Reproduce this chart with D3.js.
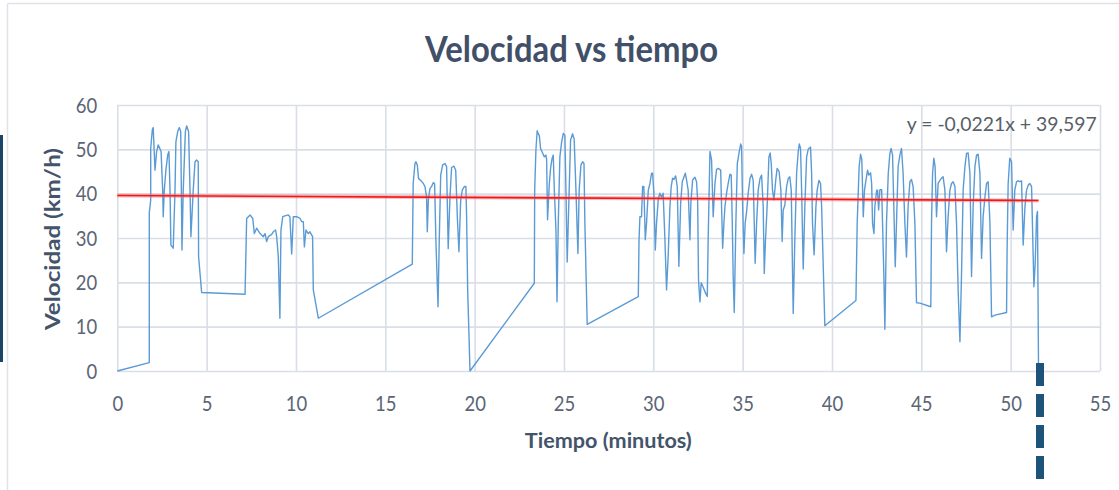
<!DOCTYPE html>
<html>
<head>
<meta charset="utf-8">
<script src="https://cdn.jsdelivr.net/npm/d3@7"></script>
<style>
  html, body { margin: 0; padding: 0; background: #fff; }
  svg { display: block; }
  text { font-family: Lato, "Open Sans", sans-serif; }
</style>
</head>
<body>
<svg id="chart" width="1119" height="490"></svg>
<script>
// Recorrido: [tiempo en minutos, velocidad en km/h]
const lecturas = [
  [0,0],[1.79,1.9],[1.79,35.6],[1.87,38.6],[1.87,50.2],[1.96,54.4],[2.01,54.9],[2.11,45.3],[2.2,49.5],[2.29,51],
  [2.45,49.5],[2.54,40.8],[2.57,34.8],[2.63,40.8],[2.72,45.3],[2.82,48.7],[2.89,49.5],[2.95,40.8],[3.0,28.4],[3.13,27.7],
  [3.23,40.8],[3.28,51.7],[3.38,54],[3.47,54.9],[3.55,54],[3.62,27.3],[3.69,40.8],[3.81,54],[3.88,55.3],[3.99,54],
  [4.07,40.8],[4.12,30.3],[4.25,40.8],[4.35,47.2],[4.44,47.6],[4.53,47.2],[4.55,25.8],[4.72,17.7],[7.15,17.3],[7.24,34.4],
  [7.43,35.2],[7.58,34.4],[7.67,31],[7.8,32.2],[7.99,31],[8.17,30.3],[8.27,31],[8.36,29.2],[8.45,30.3],[8.64,30.8],
  [8.73,31.4],[8.86,31.8],[8.92,30.3],[9.01,25.8],[9.1,11.9],[9.16,31.8],[9.26,34.8],[9.38,35],[9.57,35.2],[9.66,34.8],
  [9.76,26.4],[9.85,34.8],[10.04,34.8],[10.23,34.4],[10.32,33.7],[10.41,33.7],[10.47,28],[10.56,31.8],[10.69,31],[10.78,31.4],
  [10.93,30.3],[10.97,18.3],[11.25,11.9],
  [16.51,24.1],[16.56,42.3],[16.66,46.8],[16.71,47.2],[16.79,46.5],[16.86,43.4],[16.98,43],[17.13,42.3],[17.22,41.6],[17.31,39.3],
  [17.35,31.4],[17.41,38.6],[17.5,41.2],[17.59,41.6],[17.69,42.5],[17.76,42.2],[17.83,29.6],[17.95,14.5],[18.02,29.6],[18.1,44.2],
  [18.21,46.5],[18.34,46.8],[18.43,46.1],[18.52,27.6],[18.62,39.3],[18.71,45.9],[18.84,46.2],[18.94,45.3],[19.03,34.8],[19.12,26.9],
  [19.22,38.6],[19.31,40.8],[19.42,41.6],[19.51,41.6],[19.55,34.8],[19.61,18.3],[19.74,0],
  [23.34,19.8],[23.36,40.8],[23.43,49.9],[23.5,54.2],[23.55,53.6],[23.62,53.1],[23.69,50.2],[23.81,49.1],[23.9,48.3],[23.99,48.7],
  [24.03,47.6],[24.08,34.1],[24.18,42.3],[24.25,45.7],[24.33,47.9],[24.4,48.7],[24.46,40.8],[24.55,31.8],[24.61,15.6],[24.68,33.3],
  [24.77,48.3],[24.87,51.7],[24.96,53.6],[25.05,53.2],[25.11,40.8],[25.18,24.6],[25.28,39.3],[25.37,52.1],[25.48,53.5],[25.57,52.3],
  [25.67,40.8],[25.78,26.5],[25.85,40.8],[25.95,46.5],[26.04,47.2],[26.12,46.8],[26.17,33.3],[26.3,10.5],
  [29.16,16.8],[29.2,29.6],[29.25,34.8],[29.34,34.8],[29.4,41.6],[29.47,41.6],[29.55,29.6],[29.62,33.3],[29.72,40.8],[29.81,42.3],
  [29.9,44.6],[29.96,44.6],[30.03,40.1],[30.11,27.3],[30.18,33.3],[30.28,38.9],[30.37,40.1],[30.46,39.2],[30.55,40.1],[30.65,29.6],
  [30.74,18.3],[30.83,25.8],[30.93,37.1],[31,41.6],[31.08,43.5],[31.15,43.2],[31.25,44],[31.34,41.6],[31.43,23.6],[31.53,37.8],
  [31.62,42.7],[31.71,43.7],[31.79,44.6],[31.86,43.1],[31.95,40.8],[32.05,29.6],[32.1,37.8],[32.2,43.1],[32.33,43.7],[32.42,42.7],
  [32.48,38.6],[32.53,20.5],[32.61,15.6],[32.68,19.9],[32.79,18.9],[32.93,17.5],[33.02,16.8],
  [33.07,29.6],[33.17,49.5],[33.26,47.6],[33.35,34.8],[33.45,42.3],[33.54,45.5],[33.63,45.7],[33.77,45.3],[33.82,37.1],[33.88,27.7],
  [33.95,33.3],[34.01,37.1],[34.1,40.1],[34.19,42.3],[34.29,44.4],[34.36,44.2],[34.42,33.3],[34.47,21.3],[34.53,13.2],[34.62,33.3],
  [34.7,46.8],[34.81,49.5],[34.89,51.2],[34.94,50.6],[35,37.1],[35.07,26.5],[35.14,33.3],[35.22,35.9],[35.31,40.1],[35.41,43.4],
  [35.5,44.4],[35.59,43],[35.65,33.3],[35.7,24.3],[35.78,33.3],[35.87,40.8],[35.97,43.4],[36.06,44.2],[36.15,37.1],[36.21,22],
  [36.28,29.6],[36.37,37.1],[36.47,48.3],[36.54,49.2],[36.6,46.8],[36.67,40.8],[36.75,38.6],[36.86,43.4],[36.93,45.7],[37.04,45],
  [37.14,40.8],[37.21,29.2],[37.27,36.3],[37.36,37.4],[37.46,41.6],[37.55,43.4],[37.64,43.8],[37.72,40.8],[37.79,22.8],[37.83,13],
  [37.92,29.6],[38.02,44.6],[38.11,49.5],[38.17,51.2],[38.24,50.2],[38.3,40.8],[38.39,23],[38.48,37.1],[38.58,48.3],[38.67,50],
  [38.8,50.5],[38.86,44.6],[38.91,33.3],[39,26.2],[39.1,37.1],[39.17,40.8],[39.27,43],[39.36,42.3],[39.42,37.1],[39.6,10.2],
  [41.34,15.9],[41.41,33.3],[41.52,46.1],[41.6,48.9],[41.67,47.6],[41.75,34.8],[41.82,40.8],[41.9,43],[41.99,45.3],[42.06,44.2],
  [42.16,44.7],[42.22,42.3],[42.27,33.3],[42.35,31],[42.4,37.1],[42.5,40.8],[42.55,40.8],[42.61,36.3],[42.68,40.9],[42.78,40.9],
  [42.83,33.3],[42.9,22],[42.96,9.4],[43.05,33.3],[43.15,44.6],[43.24,49.1],[43.31,50.2],[43.39,48.7],[43.46,37.1],[43.54,23.5],
  [43.61,33.3],[43.7,46.1],[43.8,48.7],[43.89,50.2],[43.98,44.6],[44.08,33.3],[44.17,25.7],[44.26,37.1],[44.36,42.7],[44.45,43.2],
  [44.54,41.6],[44.64,33.3],[44.73,15.4],[44.92,15.3],[45.53,14.5],
  [45.57,33.3],[45.63,44.6],[45.7,48],[45.77,46.1],[45.85,34.8],[45.94,42.3],[46.04,43],[46.13,43.5],[46.22,43.8],[46.32,40.8],
  [46.41,26.9],[46.5,34.8],[46.6,40.8],[46.69,42.3],[46.78,42.7],[46.88,41.6],[46.97,33.3],[47.06,18.3],[47.16,6.6],[47.25,21.9],
  [47.34,40.8],[47.44,46.1],[47.53,49.1],[47.62,49.2],[47.72,44.6],[47.81,21.3],[47.9,37.1],[48,46.1],[48.09,48.7],[48.18,48.9],
  [48.28,44.6],[48.37,25.4],[48.46,34.8],[48.56,39.3],[48.65,42.3],[48.74,42.7],[48.84,33.3],[48.93,12.2],[49.12,12.6],[49.77,13.2],
  [49.8,27.3],[49.86,42.3],[49.95,48],[50.05,47.2],[50.14,31.8],[50.23,40.8],[50.33,42.7],[50.42,42.9],[50.51,42.7],[50.61,42.9],
  [50.7,28.4],[50.8,37.1],[50.89,40.8],[50.98,41.9],[51.07,42.3],[51.17,41.6],[51.26,26],[51.3,19],[51.37,24.1],[51.45,34.8],
  [51.5,36],[51.56,0]
];

const ticksX = [0, 5, 10, 15, 20, 25, 30, 35, 40, 45, 50, 55];
const ticksY = [0, 10, 20, 30, 40, 50, 60];

// Línea de tendencia lineal
const pendiente = -0.0221;
const intercepto = 39.597;

const titulo = "Velocidad vs tiempo";
const tituloX = "Tiempo (minutos)";
const tituloY = "Velocidad (km/h)";
const ecuacion = "y = -0,0221x + 39,597";

const svg = d3.select("#chart");
const W = 1119, H = 490;
const area = { left: 117.3, right: 1100, top: 105, bottom: 371 };

const x = d3.scaleLinear().domain([0, 55]).range([area.left, area.right]);
const y = d3.scaleLinear().domain([0, 60]).range([area.bottom, area.top]);

// Texto comprimido horizontalmente al estilo del documento original
function estrechar(sel, factor) {
  sel.each(function () {
    const n = this.getComputedTextLength();
    d3.select(this).attr("textLength", n * factor).attr("lengthAdjust", "spacingAndGlyphs");
  });
}
function ancho(sel, w) {
  sel.attr("textLength", w).attr("lengthAdjust", "spacingAndGlyphs");
}

// Marco del gráfico
svg.append("line").attr("x1", 7.5).attr("x2", W).attr("y1", 3.5).attr("y2", 3.5)
  .attr("stroke", "#dfe3e8").attr("stroke-width", 1.5);
svg.append("line").attr("x1", 7.5).attr("x2", 7.5).attr("y1", 3.5).attr("y2", H)
  .attr("stroke", "#dfe3e8").attr("stroke-width", 1.5);

// Cuadrícula
const gridColor = "#d9dee7";
svg.append("g")
  .attr("transform", `translate(0,${area.bottom})`)
  .call(d3.axisBottom(x).tickValues(ticksX).tickSize(-(area.bottom - area.top)).tickFormat(""))
  .call(g => g.select(".domain").remove())
  .selectAll("line").attr("stroke", gridColor).attr("stroke-width", 1.6);
svg.append("g")
  .attr("transform", `translate(${area.left},0)`)
  .call(d3.axisLeft(y).tickValues(ticksY).tickSize(-(area.right - area.left)).tickFormat(""))
  .call(g => g.select(".domain").remove())
  .selectAll("line").attr("stroke", gridColor).attr("stroke-width", 1.6);

// Etiquetas de los ejes
const tickColor = "#5b6575";
const ejeX = svg.append("g")
  .attr("transform", `translate(0,${area.bottom})`)
  .call(d3.axisBottom(x).tickValues(ticksX).tickSize(0).tickPadding(24).tickFormat(d3.format("d")));
ejeX.select(".domain").remove();
ejeX.selectAll("text").attr("fill", tickColor).style("font-size", "22px").call(estrechar, 0.84);

const ejeY = svg.append("g")
  .attr("transform", `translate(${area.left},0)`)
  .call(d3.axisLeft(y).tickValues(ticksY).tickSize(0).tickPadding(20).tickFormat(d3.format("d")));
ejeY.select(".domain").remove();
ejeY.selectAll("text").attr("fill", tickColor).style("font-size", "22px").call(estrechar, 0.84);

// Serie de velocidad
const linea = d3.line().x(d => x(d[0])).y(d => y(d[1]));
svg.append("path")
  .datum(lecturas)
  .attr("d", linea)
  .attr("fill", "none")
  .attr("stroke", "#5b9bd5")
  .attr("stroke-width", 1.4)
  .attr("stroke-linejoin", "round");

// Tendencia lineal
const tMax = d3.max(lecturas, d => d[0]);
const tendencia = [[0, intercepto], [tMax, intercepto + pendiente * tMax]];
svg.append("path").datum(tendencia).attr("d", linea)
  .attr("stroke", "#ff6b6b").attr("stroke-opacity", 0.45).attr("stroke-width", 4).attr("fill", "none");
svg.append("path").datum(tendencia).attr("d", linea)
  .attr("stroke", "#f01818").attr("stroke-width", 1.6).attr("fill", "none");

// Ecuación de la tendencia
svg.append("text")
  .attr("x", 1096.7).attr("y", 130.5)
  .attr("text-anchor", "end")
  .attr("fill", "#595f69")
  .style("font-size", "19.5px")
  .text(ecuacion)
  .call(ancho, 190);

// Títulos
svg.append("text")
  .attr("x", 571.5).attr("y", 61.5)
  .attr("text-anchor", "middle")
  .attr("fill", "#415068")
  .style("font-size", "37px").style("font-weight", "700")
  .text(titulo)
  .call(ancho, 293);

svg.append("text")
  .attr("x", 608.3).attr("y", 448)
  .attr("text-anchor", "middle")
  .attr("fill", "#44546a")
  .style("font-size", "21px").style("font-weight", "700")
  .text(tituloX)
  .call(ancho, 167);

svg.append("text")
  .attr("transform", "translate(60,239) rotate(-90)")
  .attr("text-anchor", "middle")
  .attr("fill", "#44546a")
  .style("font-size", "21px").style("font-weight", "700")
  .text(tituloY)
  .call(ancho, 182);

// Barra lateral y guía discontinua
svg.append("rect").attr("x", 0).attr("y", 135).attr("width", 3).attr("height", 227).attr("fill", "#1b4566");
svg.append("line")
  .attr("x1", 1040).attr("x2", 1040).attr("y1", 363).attr("y2", 483)
  .attr("stroke", "#1e5479").attr("stroke-width", 8)
  .attr("stroke-dasharray", "23,8");
</script>
</body>
</html>
